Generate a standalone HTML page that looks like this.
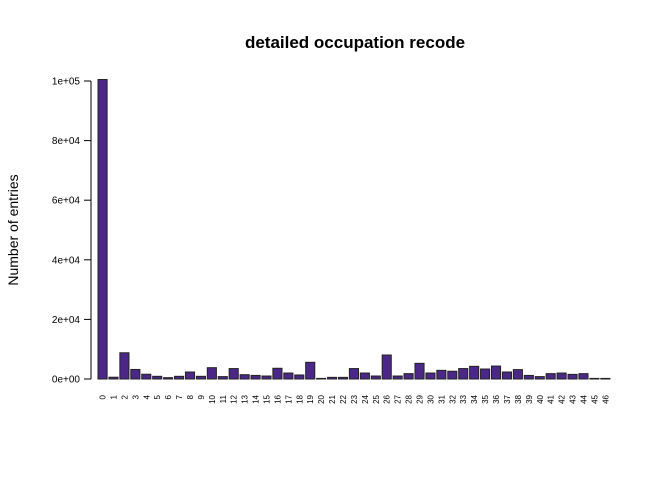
<!DOCTYPE html>
<html><head><meta charset="utf-8"><style>
body{margin:0;background:#fff}
svg{display:block;font-family:"Liberation Sans",Arial,sans-serif}
</style></head><body>
<svg id="chart" width="672" height="480">
<text x="355" y="48" text-anchor="middle" font-size="17" font-weight="bold">detailed occupation recode</text>
<text transform="translate(18,230) rotate(-90)" text-anchor="middle" font-size="14">Number of entries</text>
<g id="yaxis"></g>
<g id="bars"></g>
<g id="xlabels"></g>
</svg>
<script>
const categories = Array.from({length:47},(_,i)=>String(i));
const counts = [100500,600,8800,3200,1600,900,450,900,2350,900,3800,800,3500,1450,1200,1000,3600,2000,1350,5600,200,550,550,3500,2000,1000,8050,1000,1800,5250,2000,2900,2600,3500,4250,3350,4350,2350,3150,1200,800,1800,2000,1550,1800,200,200];
const yTicks = [0,20000,40000,60000,80000,100000];
const yTickLabels = ["0e+00","2e+04","4e+04","6e+04","8e+04","1e+05"];
const NS="http://www.w3.org/2000/svg";
const y0=379, y1=81;
const yScale=v=>y0-(v/100000)*(y0-y1);
const xScale=i=>98+i*10.93;
const bw=9.1;
const yax=document.getElementById('yaxis');
function mk(t,a,p){const e=document.createElementNS(NS,t);for(const k in a)e.setAttribute(k,a[k]);p.appendChild(e);return e;}
mk('line',{x1:91,x2:91,y1:y0,y2:y1,stroke:'#000'},yax);
yTicks.forEach((v,i)=>{
  const y=yScale(v);
  mk('line',{x1:84,x2:91,y1:y,y2:y,stroke:'#000'},yax);
  const t=mk('text',{x:80,y:y+3.5,'text-anchor':'end','font-size':10},yax);
  t.textContent=yTickLabels[i];
  
  
});
const bars=document.getElementById('bars'), xl=document.getElementById('xlabels');
counts.forEach((v,i)=>{
  const x=xScale(i), y=yScale(v);
  const r=mk('rect',{x:x,y:y,width:bw,height:y0-y,fill:'#4b2888',stroke:'#222','stroke-width':1},bars);
  
  
  const cx=x+bw/2+3;
  const t=mk('text',{transform:`translate(${cx},395) rotate(-90)`,'text-anchor':'end','font-size':8},xl);
  t.textContent=categories[i];
  
  
});
</script>
</body></html>
